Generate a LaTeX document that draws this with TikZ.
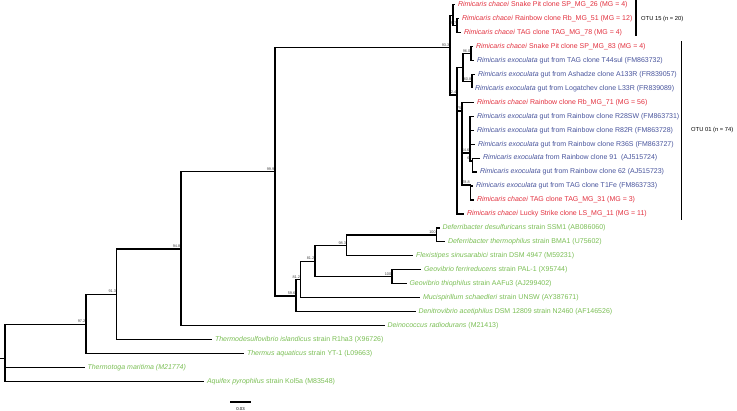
\documentclass[tikz,border=0pt]{standalone}
\usepackage{fontspec}
\setmainfont{Liberation Sans}
\definecolor{chred}{RGB}{226,48,62}
\definecolor{exblue}{RGB}{72,84,156}
\definecolor{grn}{RGB}{122,190,84}
\newcommand\lf[5]{\coordinate (#1) at (#2,#3); \node[lab,text=#4] (#1t) at ([xshift=2.8pt]#1) {#5};}
\newcommand\nd[4]{\coordinate (#1) at (#2,#3); \node[bs] (#1l) at ([xshift=-0.3pt,yshift=0.8pt]#1) {#4};}
\newcommand\ch{\textit{Rimicaris chacei}}
\newcommand\ex{\textit{Rimicaris exoculata}}
\begin{document}
\begin{tikzpicture}[x=1pt,y=-1pt,
  br/.style={line width=1.25pt},
  otubar/.style={line width=1.8pt},
  lab/.style={anchor=west,font=\fontsize{7}{8}\selectfont,inner sep=0pt},
  bs/.style={anchor=south east,font=\fontsize{3.8}{4}\selectfont,inner sep=0.3pt,text=black!75},
  otu/.style={anchor=west,font=\fontsize{5.8}{7}\selectfont,inner sep=0pt}]
\useasboundingbox (0,0) rectangle (737,411);
% leaves
\lf{l1}{455}{4.7}{chred}{\ch\ Snake Pit clone SP\_MG\_26 (MG = 4)}
\lf{l2}{459}{18.65}{chred}{\ch\ Rainbow clone Rb\_MG\_51 (MG = 12)}
\lf{l3}{461}{32.6}{chred}{\ch\ TAG clone TAG\_MG\_78 (MG = 4)}
\lf{l4}{473}{46.55}{chred}{\ch\ Snake Pit clone SP\_MG\_83 (MG = 4)}
\lf{l5}{474}{60.5}{exblue}{\ex\ gut from TAG clone T44sul (FM863732)}
\lf{l6}{475}{74.45}{exblue}{\ex\ gut from Ashadze clone A133R (FR839057)}
\lf{l7}{472}{88.4}{exblue}{\ex\ gut from Logatchev clone L33R (FR839089)}
\lf{l8}{474}{102.35}{chred}{\ch\ Rainbow clone Rb\_MG\_71 (MG = 56)}
\lf{l9}{474}{116.3}{exblue}{\ex\ gut from Rainbow clone R28SW (FM863731)}
\lf{l10}{474}{130.25}{exblue}{\ex\ gut from Rainbow clone R82R (FM863728)}
\lf{l11}{475}{144.2}{exblue}{\ex\ gut from Rainbow clone R36S (FM863727)}
\lf{l12}{480}{158.15}{exblue}{\ex\ from Rainbow clone 91\ \ (AJ515724)}
\lf{l13}{477}{172.1}{exblue}{\ex\ gut from Rainbow clone 62 (AJ515723)}
\lf{l14}{473}{186.05}{exblue}{\ex\ gut from TAG clone T1Fe (FM863733)}
\lf{l15}{474}{200.0}{chred}{\ch\ TAG clone TAG\_MG\_31 (MG = 3)}
\lf{l16}{464}{213.95}{chred}{\ch\ Lucky Strike clone LS\_MG\_11 (MG = 11)}
\lf{l17}{439.5}{227.9}{grn}{\textit{Deferribacter desulfuricans} strain SSM1 (AB086060)}
\lf{l18}{445}{241.85}{grn}{\textit{Deferribacter thermophilus} strain BMA1 (U75602)}
\lf{l19}{413}{255.8}{grn}{\textit{Flexistipes sinusarabici} strain DSM 4947 (M59231)}
\lf{l20}{421}{269.75}{grn}{\textit{Geovibrio ferrireducens} strain PAL-1 (X95744)}
\lf{l21}{406.5}{283.7}{grn}{\textit{Geovibrio thiophilus} strain AAFu3 (AJ299402)}
\lf{l22}{420}{297.65}{grn}{\textit{Mucispirillum schaedleri} strain UNSW (AY387671)}
\lf{l23}{415.5}{311.6}{grn}{\textit{Denitrovibrio acetiphilus} DSM 12809 strain N2460 (AF146526)}
\lf{l24}{384.5}{325.55}{grn}{\textit{Deinococcus radiodurans} (M21413)}
\lf{l25}{212}{339.5}{grn}{\textit{Thermodesulfovibrio islandicus} strain R1ha3 (X96726)}
\lf{l26}{244}{353.45}{grn}{\textit{Thermus aquaticus} strain YT-1 (L09663)}
\lf{l27}{84.5}{367.4}{grn}{\textit{Thermotoga maritima (M21774)}}
\lf{l28}{204}{381.35}{grn}{\textit{Aquifex pyrophilus} strain Kol5a (M83548)}
% internal nodes
\coordinate (root0) at (0,358.4);
\nd{root}{5}{358.4}{}
\nd{n972}{86}{324.3}{97.2}
\nd{n913}{116.7}{294.3}{91.3}
\nd{n948}{181}{248.9}{94.8}
\nd{n999}{275}{171.7}{99.9}
\nd{n596}{296}{296.1}{59.6}
\nd{n812}{300.7}{279.6}{81.2}
\nd{n812b}{315}{261.2}{81.2}
\nd{n983}{346.7}{245.4}{98.3}
\nd{n100a}{436.5}{234.9}{100}
\nd{n100b}{392}{276.7}{100}
\nd{n933}{450}{47.4}{93.3}
\nd{o15}{453}{15.2}{}
\nd{n257}{457}{25.6}{25.7}
\nd{n824}{457}{95}{82.4}
\nd{nb}{463}{67.5}{}
\nd{n960}{471}{53.5}{96.0}
\nd{n608}{472}{81.4}{60.8}
\nd{n75}{462}{111}{75}
\nd{n646}{470}{153}{64.6}
\nd{n61}{472.5}{161}{61}
\nd{n788}{470.5}{185}{78.8}
% branches
\draw[br] (root0) -- (root);
\foreach \p/\c in {root/n972,root/l27,root/l28,n972/n913,n972/l26,n913/n948,n913/l25,
  n948/n999,n948/l24,n999/n933,n999/n596,n596/n812,n596/l23,n812/n812b,n812/l22,
  n812b/n983,n812b/n100b,n983/n100a,n983/l19,n100a/l17,n100a/l18,n100b/l20,n100b/l21,
  n933/o15,n933/n824,o15/l1,o15/n257,n257/l2,n257/l3,n824/nb,n824/n75,n824/l16,nb/n960,nb/n608,
  n960/l4,n960/l5,n608/l6,n608/l7,n75/l8,n75/n646,n75/n788,n646/l9,n646/l10,n646/l11,
  n646/n61,n61/l12,n61/l13,n788/l14,n788/l15}
  \draw[br] (\p) |- (\c);
% OTU bars
\coordinate (o15a) at (636,0);
\coordinate (o15b) at (636,36.5);
\draw[otubar] (o15a) -- (o15b);
\node[otu] (o15lab) at (641,18.7) {OTU 15 (n = 20)};
\coordinate (o01a) at (681.5,41.5);
\coordinate (o01b) at (681.5,220);
\draw[otubar] (o01a) -- (o01b);
\node[otu] (o01lab) at (691,130.4) {OTU 01 (n = 74)};
% scale bar
\coordinate (sba) at (230,402);
\coordinate (sbb) at (251,402);
\draw[br] (sba) -- (sbb);
\node[font=\fontsize{4.3}{5}\selectfont,inner sep=0pt] (sbl) at (240.5,408.6) {0.03};
\end{tikzpicture}
\end{document}
